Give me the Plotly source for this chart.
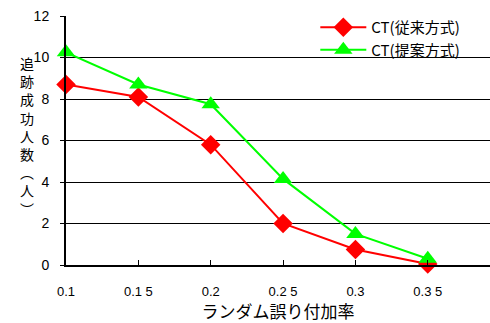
import plotly.graph_objects as go

x_rates = [0.1, 0.15, 0.2, 0.25, 0.3, 0.35]
ct_conventional = [8.7, 8.1, 5.8, 2.0, 0.75, 0.05]
ct_proposed = [10.25, 8.7, 7.75, 4.15, 1.5, 0.3]
x_tick_labels = ["0.1", "0.1 5", "0.2", "0.2 5", "0.3", "0.3 5"]
y_ticks = [0, 2, 4, 6, 8, 10, 12]
y_title = "追跡成功人数︵人︶"

fig = go.Figure()
fig.add_trace(go.Scatter(
    x=x_rates, y=ct_conventional, mode="lines+markers", name="CT(従来方式)",
    line=dict(color="#ff0000", width=2), cliponaxis=False,
    marker=dict(symbol="diamond", size=15, color="#ff0000"),
))
fig.add_trace(go.Scatter(
    x=x_rates, y=ct_proposed, mode="lines+markers", name="CT(提案方式)",
    line=dict(color="#00ff00", width=2), cliponaxis=False,
    marker=dict(symbol="triangle-up", size=16, color="#00ff00"),
))

font_family = "Liberation Sans, Arial, sans-serif"
fig.update_layout(
    width=490, height=323,
    margin=dict(l=66, r=0, t=16, b=58),
    paper_bgcolor="white", plot_bgcolor="white",
    showlegend=True,
    legend=dict(x=0.588, y=1.02, xanchor="left", yanchor="top",
                bgcolor="rgba(0,0,0,0)", font=dict(size=15, color="black",
                family="Noto Sans CJK JP, sans-serif"),
                tracegroupgap=0, itemwidth=46),
    xaxis=dict(range=[0.1, 0.393], tickvals=x_rates, ticktext=x_tick_labels,
               showgrid=False, zeroline=False, showline=True,
               linecolor="black", linewidth=2, ticks="inside", ticklen=5,
               tickcolor="black", ticklabelstandoff=13,
               tickfont=dict(size=13, color="black", family=font_family),
               title=dict(text="ランダム誤り付加率", standoff=4,
                          font=dict(size=17, color="black",
                                    family="Noto Sans CJK JP, sans-serif"))),
    yaxis=dict(range=[0, 12], tickvals=y_ticks, showgrid=True,
               gridcolor="black", gridwidth=1, zeroline=False, showline=True,
               linecolor="black", linewidth=2, ticks="outside", ticklen=4,
               tickcolor="black", ticklabelstandoff=8,
               tickfont=dict(size=14, color="black", family=font_family)),
)

fig.add_annotation(text="<br>".join(y_title), xref="paper", yref="paper",
                   x=-0.092, xanchor="center",
                   y=(265 - 51) / 249, yanchor="top", align="center",
                   showarrow=False,
                   font=dict(size=14, color="black",
                             family="Noto Sans CJK JP, sans-serif"))

fig.write_html("out.html", config={"displayModeBar": False},
               post_script="document.body.style.margin='0';")
